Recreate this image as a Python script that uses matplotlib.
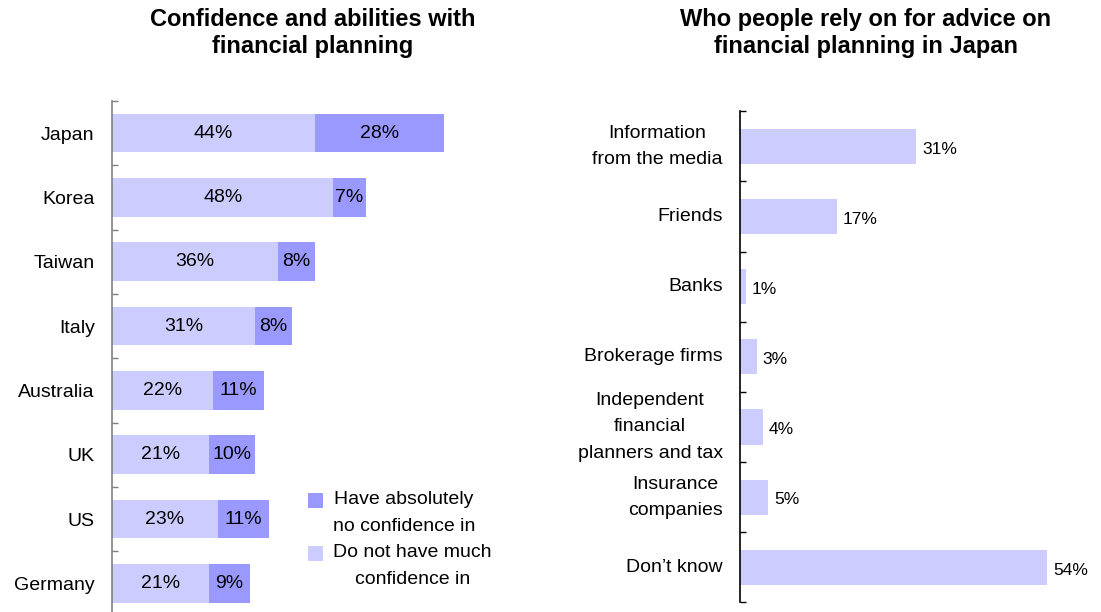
import matplotlib
matplotlib.use("Agg")
import matplotlib.pyplot as plt
from matplotlib.patches import Rectangle
from matplotlib.ticker import FixedLocator, NullFormatter

plt.rcParams["font.family"] = ["Liberation Sans", "DejaVu Sans"]

DARK = "#9999ff"
LIGHT = "#ccccff"
INK = "#000000"

# left panel: confidence by country
countries = ["Japan", "Korea", "Taiwan", "Italy", "Australia", "UK", "US", "Germany"]
not_much = [44, 48, 36, 31, 22, 21, 23, 21]
no_conf = [28, 7, 8, 8, 11, 10, 11, 9]

# right panel: sources of advice in Japan
sources = [
    "Information\nfrom the media",
    "Friends",
    "Banks",
    "Brokerage firms",
    "Independent\nfinancial\nplanners and tax",
    "Insurance\ncompanies",
    "Don\u2019t know",
]
source_pct = [31, 17, 1, 3, 4, 5, 54]

W, H = 1101, 612
fig = plt.figure(figsize=(W / 100, H / 100), dpi=100)
fig.patch.set_facecolor("white")


def px_axes(x0, y_top, w, h):
    return fig.add_axes([x0 / W, (H - y_top - h) / H, w / W, h / H])


def boundary_ticks(ax, n, spine_color):
    ax.set_ylim(n - 0.5, -0.5)
    ax.yaxis.set_minor_locator(FixedLocator([i - 0.5 for i in range(n + 1)]))
    ax.yaxis.set_minor_formatter(NullFormatter())
    ax.tick_params(axis="y", which="minor", direction="in", length=4.5,
                   width=1.0, color=spine_color)
    ax.tick_params(axis="y", which="major", length=0, pad=12.5, labelsize=14,
                   labelcolor=INK)
    for s in ("top", "right", "bottom"):
        ax.spines[s].set_visible(False)
    ax.spines["left"].set_color(spine_color)
    ax.spines["left"].set_linewidth(1.2)
    ax.set_xticks([])


# ---- left chart
ax1 = px_axes(112, 101, 420, 514.5)
ax1.set_xlim(0, 420 / 4.61)
ys = range(len(countries))
ax1.barh(ys, not_much, height=0.6, color=LIGHT, linewidth=0)
ax1.barh(ys, no_conf, left=not_much, height=0.6, color=DARK, linewidth=0)
for y, a, b in zip(ys, not_much, no_conf):
    ax1.text(a / 2, y, f"{a}%", ha="center", va="center", fontsize=14, color=INK)
    ax1.text(a + b / 2, y, f"{b}%", ha="center", va="center", fontsize=14, color=INK)
ax1.set_yticks(list(ys))
ax1.set_yticklabels(countries)
boundary_ticks(ax1, len(countries), "#808080")

fig.text(313 / W, 1 - 33 / H, "Confidence and abilities with\nfinancial planning",
         ha="center", va="center", fontsize=17, fontweight="bold",
         linespacing=1.22, color=INK)

# legend drawn by hand so the swatch sits beside the first text line
leg = [(DARK, "Have absolutely\nno confidence in", 502),
       (LIGHT, "Do not have much\nconfidence in", 555)]
for color, label, ymid in leg:
    fig.patches.append(Rectangle((308 / W, 1 - (ymid + 6) / H), 15 / W, 15 / H,
                                 transform=fig.transFigure, color=color, lw=0))
    fig.text(333 / W, 1 - (ymid - 11) / H, label, ha="left", va="top",
             fontsize=14, linespacing=1.8, multialignment="center", color=INK)

# ---- right chart
ax2 = px_axes(740, 111.2, 360, 491.2)
ax2.set_xlim(0, 360 / 5.69)
ys2 = range(len(sources))
ax2.barh(ys2, source_pct, height=0.5, color=LIGHT, linewidth=0)
for y, v in zip(ys2, source_pct):
    ax2.annotate(f"{v}%", (v, y), xytext=(4, -2), textcoords="offset points",
                 ha="left", va="center", fontsize=12.5, color=INK,
                 family=["Liberation Sans Narrow", "Liberation Sans"],
                 annotation_clip=False)
ax2.set_yticks(list(ys2))
ax2.set_yticklabels(sources)
boundary_ticks(ax2, len(sources), INK)
for t in ax2.get_yticklabels():
    t.set_multialignment("center")
    t.set_linespacing(1.7)
    t.set_verticalalignment("center")

fig.text(866 / W, 1 - 33 / H, "Who people rely on for advice on\nfinancial planning in Japan",
         ha="center", va="center", fontsize=17, fontweight="bold",
         linespacing=1.22, color=INK)

fig.savefig("out.png", dpi=100, facecolor="white")
